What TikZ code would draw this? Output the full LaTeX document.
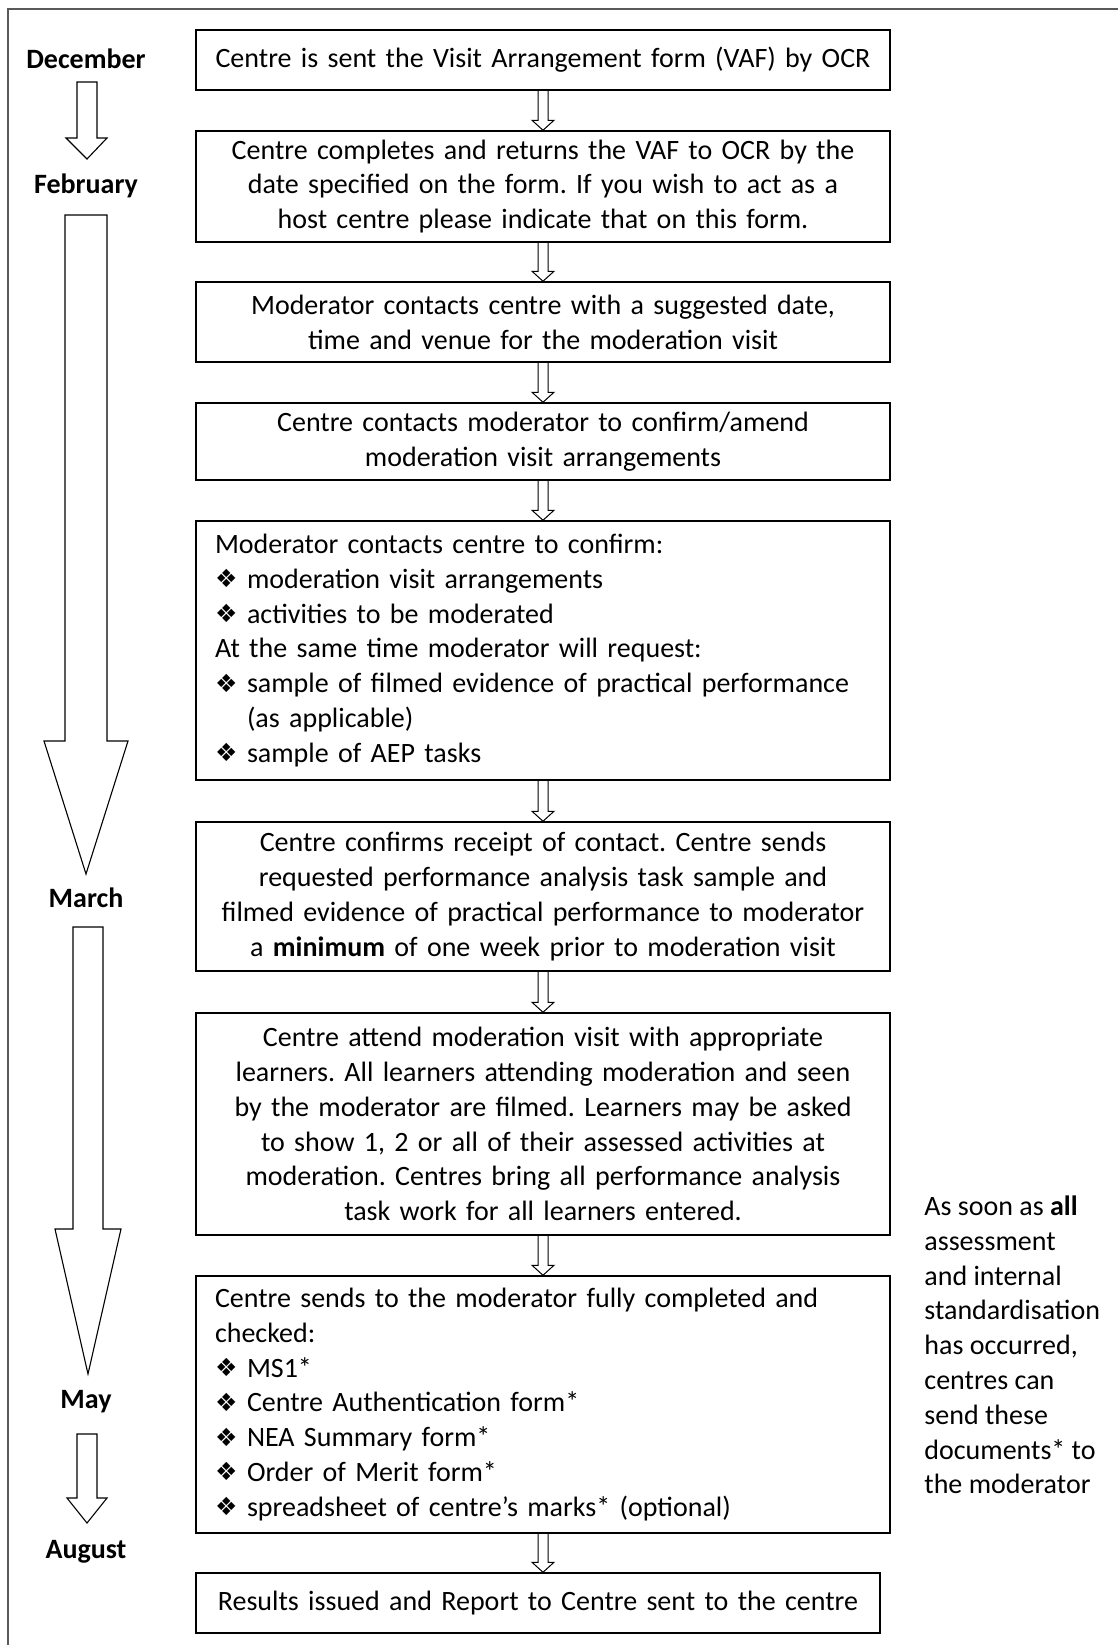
\documentclass[tikz,border=0pt]{standalone}
\usepackage{fontspec}
\setmainfont{Carlito}
\newfontfamily\bulfont{DejaVu Sans}
\usetikzlibrary{calc}
\definecolor{framegray}{gray}{0.35}
\newcommand\bul{\makebox[16pt][l]{\raisebox{0.3pt}{\bulfont\fontsize{12.5}{12.5}\selectfont ❖}}}
\newcommand\hang{\hspace*{16pt}}
\newcommand\flowarrow[2]{%
  \draw[smallarrow] ($(#1.south)+(-5,0)$) -- ($(#1.south |- #2.north)+(-5,-10)$)
    -- ($(#1.south |- #2.north)+(-11,-10)$) -- (#1.south |- #2.north)
    -- ($(#1.south |- #2.north)+(11,-10)$) -- ($(#1.south |- #2.north)+(5,-10)$)
    -- ($(#1.south)+(5,0)$);}
\frenchspacing
\begin{document}
\begin{tikzpicture}[x=0.5pt,y=-0.5pt,
  every node/.style={font=\fontsize{14}{17.4}\selectfont},
  box/.style={draw, line width=0.75pt, inner sep=0pt, minimum width=347pt, text width=328pt, align=center},
  lbox/.style={box, align=left},
  month/.style={font=\fontsize{14}{17.4}\selectfont\bfseries, inner sep=0pt},
  smallarrow/.style={line width=0.5pt, line join=miter},
  blockarrow/.style={line width=0.55pt, line join=miter}]
\useasboundingbox (0,0) rectangle (1118,1645);
\draw[framegray, line width=1pt] (8,1645) -- (8,9) -- (1118,9);

\node[box, minimum height=30pt] (b1) at (543,60) {Centre is sent the Visit Arrangement form (VAF) by OCR};
\node[box, minimum height=55.5pt] (b2) at (543,186.5) {Centre completes and returns the VAF to OCR by the\\date specified on the form. If you wish to act as a\\host centre please indicate that on this form.};
\node[box, minimum height=40pt] (b3) at (543,322) {Moderator contacts centre with a suggested date,\\time and venue for the moderation visit};
\node[box, minimum height=38.5pt] (b4) at (543,441.5) {Centre contacts moderator to confirm/amend\\moderation visit arrangements};
\node[lbox, minimum height=129.5pt] (b5) at (543,650.5) {Moderator contacts centre to confirm:\\\bul moderation visit arrangements\\\bul activities to be moderated\\At the same time moderator will request:\\\bul sample of filmed evidence of practical performance\\\hang(as applicable)\\\bul sample of AEP tasks};
\node[box, minimum height=74.5pt] (b6) at (543,896.5) {Centre confirms receipt of contact. Centre sends\\requested performance analysis task sample and\\filmed evidence of practical performance to moderator\\a \textbf{minimum} of one week prior to moderation visit};
\node[box, minimum height=111pt] (b7) at (543,1124) {Centre attend moderation visit with appropriate\\learners. All learners attending moderation and seen\\by the moderator are filmed. Learners may be asked\\to show 1, 2 or all of their assessed activities at\\moderation. Centres bring all performance analysis\\task work for all learners entered.};
\node[lbox, minimum height=128.5pt] (b8) at (543,1404.5) {Centre sends to the moderator fully completed and\\checked:\\\bul MS1*\\\bul Centre Authentication form*\\\bul NEA Summary form*\\\bul Order of Merit form*\\\bul spreadsheet of centre’s marks* (optional)};
\node[box, minimum height=30pt, minimum width=342pt, text width=322pt] (b9) at (538,1603) {Results issued and Report to Centre sent to the centre};

\flowarrow{b1}{b2}
\flowarrow{b2}{b3}
\flowarrow{b3}{b4}
\flowarrow{b4}{b5}
\flowarrow{b5}{b6}
\flowarrow{b6}{b7}
\flowarrow{b7}{b8}
\flowarrow{b8}{b9}

\node[month] (dec) at (86,59) {December};
\node[month] (feb) at (86,186) {February};
\node[month] (mar) at (86,898) {March};
\node[month] (may) at (86,1402) {May};
\node[month] (aug) at (86,1552) {August};

\draw[blockarrow] (77,82) -- (77,138) -- (66,138) -- (87,159) -- (107,138) -- (97,138) -- (97,82) -- cycle;
\draw[blockarrow] (65,215) -- (65,741) -- (44,741) -- (86,874) -- (128,741) -- (107,741) -- (107,215) -- cycle;
\draw[blockarrow] (73,927) -- (73,1229) -- (55,1229) -- (88,1374) -- (121,1229) -- (103,1229) -- (103,927) -- cycle;
\draw[blockarrow] (77,1434) -- (77,1498) -- (67,1498) -- (87,1523) -- (107,1498) -- (97,1498) -- (97,1434) -- cycle;

\node[anchor=west, align=left, inner sep=0pt] (note) at (924,1345) {As soon as \textbf{all}\\assessment\\and internal\\standardisation\\has occurred,\\centres can\\send these\\documents* to\\the moderator};
\end{tikzpicture}
\end{document}
